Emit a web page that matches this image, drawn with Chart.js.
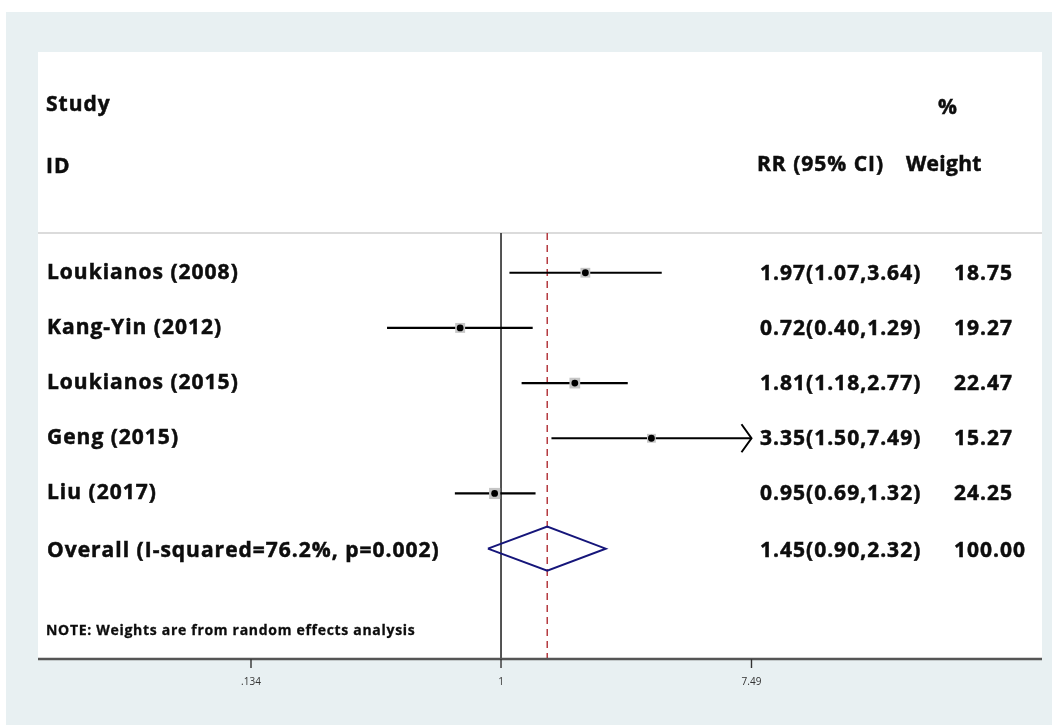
<!DOCTYPE html>
<html>
<head>
<meta charset="utf-8">
<script src="https://cdn.jsdelivr.net/npm/chart.js@4.4.1/dist/chart.umd.min.js"></script>
<style>
  html, body { margin: 0; padding: 0; background: #ffffff; }
  canvas { display: block; }
</style>
</head>
<body>
<canvas id="forest" width="1052" height="725"></canvas>
<script>
// Study-level relative risks with 95% confidence limits and random-effects weights
const studies   = ['Loukianos (2008)', 'Kang-Yin (2012)', 'Loukianos (2015)', 'Geng (2015)', 'Liu (2017)'];
const rr        = [1.97, 0.72, 1.81, 3.35, 0.95];
const lower     = [1.07, 0.40, 1.18, 1.50, 0.69];
const upper     = [3.64, 1.29, 2.77, 7.49, 1.32];
const weights   = [18.75, 19.27, 22.47, 15.27, 24.25];

// Pooled estimate
const overallLabel  = 'Overall (I-squared=76.2%, p=0.002)';
const overallRR     = 1.45;
const overallLower  = 0.90;
const overallUpper  = 2.32;
const overallWeight = 100.00;

// Axis ticks
const tickValues = [0.134, 1, 7.49];
const tickLabels = ['.134', '1', '7.49'];

// Axis extent shown on screen (the CI of Geng is truncated at 7.49)
const axisMax = 7.49;

// ---- layout / style ----
const FONT = '"Open Sans", "Noto Sans", sans-serif';
const TEXT_COLOR = '#0d0d0d';
const fmt2 = v => v.toFixed(2);
const ciText = (e, l, u) => fmt2(e) + '(' + fmt2(l) + ',' + fmt2(u) + ')';

const rows = studies.map((_, i) => i + 1);     // study rows 1..5
const overallRow = studies.length + 1;         // pooled row 6
const lineTop = 0.28;                          // top of the reference lines (row units)

// One two-point line per confidence interval
const ciDatasets = studies.map((s, i) => ({
  type: 'line',
  label: s,
  data: [{x: lower[i], y: rows[i]}, {x: upper[i], y: rows[i]}],
  borderColor: '#000000',
  borderWidth: 2.2,
  pointRadius: 0,
  fill: false,
  order: 3
}));

const diamondHalf = 0.40;
const datasets = [
  {
    type: 'line', label: 'null',
    data: [{x: 1, y: lineTop}, {x: 1, y: 8}],
    borderColor: '#2b2b2b', borderWidth: 1.6, pointRadius: 0, order: 5
  },
  {
    type: 'line', label: 'pooled',
    data: [{x: overallRR, y: lineTop}, {x: overallRR, y: 8}],
    borderColor: '#b53a40', borderWidth: 1.5, borderDash: [7, 5], pointRadius: 0, order: 4
  },
  ...ciDatasets,
  {
    type: 'scatter', label: 'weight boxes',
    data: rr.map((v, i) => ({x: v, y: rows[i]})),
    pointStyle: 'rect',
    pointRadius: ctx => 1.6 * Math.sqrt(weights[ctx.dataIndex] || 0),
    backgroundColor: '#c6c6c6', borderWidth: 0, order: 2
  },
  {
    type: 'scatter', label: 'estimates',
    data: rr.map((v, i) => ({x: v, y: rows[i]})),
    pointStyle: 'circle', pointRadius: 3.4,
    backgroundColor: '#000000', borderWidth: 0, order: 1
  },
  {
    type: 'line', label: 'overall',
    data: [
      {x: overallLower, y: overallRow},
      {x: overallRR, y: overallRow - diamondHalf},
      {x: overallUpper, y: overallRow},
      {x: overallRR, y: overallRow + diamondHalf},
      {x: overallLower, y: overallRow}
    ],
    borderColor: '#15157a', borderWidth: 2, pointRadius: 0, fill: false, tension: 0, order: 1
  }
];

// Heavier bold text: fill plus a thin outline in the same colour
function boldText(ctx, txt, x, y) {
  ctx.fillText(txt, x, y);
  ctx.strokeText(txt, x, y);
}

// Frame, column text, truncation arrow and the x axis
const forestDecor = {
  id: 'forestDecor',
  beforeDraw(chart) {
    const {ctx, chartArea: a} = chart;
    ctx.save();
    ctx.fillStyle = '#ffffff';
    ctx.fillRect(0, 0, chart.width, chart.height);
    ctx.fillStyle = '#e8f0f2';
    ctx.fillRect(6, 12, chart.width - 6, chart.height - 12);
    ctx.fillStyle = '#ffffff';
    ctx.fillRect(a.left, a.top, a.right - a.left, a.bottom - a.top);
    // header separator
    const yS = chart.scales.y;
    ctx.strokeStyle = '#cfcfcf';
    ctx.lineWidth = 1.5;
    ctx.beginPath();
    ctx.moveTo(a.left, yS.getPixelForValue(lineTop));
    ctx.lineTo(a.right, yS.getPixelForValue(lineTop));
    ctx.stroke();
    ctx.restore();
  },
  afterDraw(chart) {
    const {ctx, chartArea: a} = chart;
    const xS = chart.scales.x, yS = chart.scales.y;
    ctx.save();
    ctx.fillStyle = TEXT_COLOR;
    ctx.strokeStyle = TEXT_COLOR;
    ctx.lineWidth = 0.5;
    ctx.textBaseline = 'middle';
    ctx.textAlign = 'left';
    ctx.font = 'bold 21px ' + FONT;
    ctx.letterSpacing = '1px';

    // headers
    boldText(ctx, 'Study', 46, 105);
    boldText(ctx, 'ID', 46, 167);
    boldText(ctx, '%', 938, 108);
    boldText(ctx, 'RR (95% CI)', 757, 165);
    ctx.letterSpacing = '0.3px';
    boldText(ctx, 'Weight', 906, 165);
    ctx.letterSpacing = '1px';

    // study rows
    studies.forEach((s, i) => {
      const y = yS.getPixelForValue(rows[i]);
      boldText(ctx, s, 47, y);
      boldText(ctx, ciText(rr[i], lower[i], upper[i]), 760, y + 1);
      boldText(ctx, fmt2(weights[i]), 954, y + 1);
    });
    const yo = yS.getPixelForValue(overallRow);
    boldText(ctx, overallLabel, 47, yo + 2);
    boldText(ctx, ciText(overallRR, overallLower, overallUpper), 760, yo + 2);
    boldText(ctx, overallWeight.toFixed(2), 954, yo + 2);

    ctx.font = 'bold 14px ' + FONT;
    ctx.letterSpacing = '0.7px';
    ctx.lineWidth = 0.3;
    boldText(ctx, 'NOTE: Weights are from random effects analysis', 46, 631);
    ctx.letterSpacing = '0px';

    // arrowheads on intervals cut at the axis limit
    ctx.strokeStyle = '#000000';
    ctx.lineWidth = 2;
    upper.forEach((u, i) => {
      if (u >= axisMax) {
        const px = xS.getPixelForValue(axisMax);
        const py = yS.getPixelForValue(rows[i]);
        ctx.beginPath();
        ctx.moveTo(px - 10, py - 14);
        ctx.lineTo(px, py);
        ctx.lineTo(px - 10, py + 14);
        ctx.stroke();
      }
    });

    // x axis
    ctx.strokeStyle = '#555555';
    ctx.lineWidth = 2.5;
    ctx.beginPath();
    ctx.moveTo(a.left, a.bottom);
    ctx.lineTo(a.right, a.bottom);
    ctx.stroke();
    ctx.strokeStyle = '#333333';
    ctx.lineWidth = 1.4;
    ctx.fillStyle = '#333333';
    ctx.font = '10px ' + FONT;
    ctx.textAlign = 'center';
    tickValues.forEach((t, i) => {
      const px = xS.getPixelForValue(t);
      ctx.beginPath();
      ctx.moveTo(px, a.bottom);
      ctx.lineTo(px, a.bottom + 9);
      ctx.stroke();
      ctx.fillText(tickLabels[i], px, a.bottom + 23);
    });
    ctx.restore();
  }
};

new Chart(document.getElementById('forest'), {
  type: 'scatter',
  data: { datasets },
  options: {
    responsive: false,
    animation: false,
    devicePixelRatio: 1,
    layout: { padding: { left: 38, top: 52, right: 10, bottom: 66 } },
    plugins: { legend: { display: false }, tooltip: { enabled: false } },
    scales: {
      x: { type: 'logarithmic', display: false, min: 0.02418, max: 77.4 },
      y: { type: 'linear', display: false, reverse: true, min: -3, max: 8 }
    },
    elements: { line: { tension: 0 } }
  },
  plugins: [forestDecor]
});
</script>
</body>
</html>
